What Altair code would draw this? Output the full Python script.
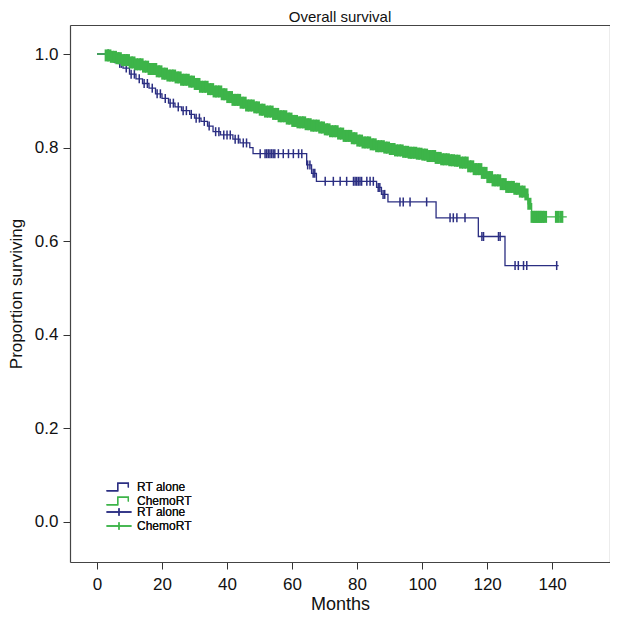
import altair as alt
import pandas as pd

# ---- data ----
groups = ["RT alone", "ChemoRT"]
colors = ["#2B2E82", "#3DB449"]

rt_t = [0, 5, 6.5, 8, 10, 12, 14, 16, 18, 20, 22, 24, 26, 28.5, 30, 32, 34, 35.7,
        38, 41.8, 44, 47, 48, 64.5, 66, 67.5, 86, 87.5, 89.5, 104.3, 117.3, 125.5, 142]
rt_s = [1.0, 0.99, 0.98, 0.97, 0.957, 0.947, 0.937, 0.927, 0.915, 0.905, 0.895, 0.887,
        0.879, 0.871, 0.863, 0.856, 0.846, 0.834, 0.827, 0.818, 0.81, 0.80, 0.787,
        0.763, 0.745, 0.728, 0.715, 0.70, 0.684, 0.65, 0.61, 0.548, 0.548]
rt_cens = [3.5, 5.5, 7, 7.5, 9, 10.5, 11.5, 13, 14.5, 15.5, 17, 18.5, 19.5, 21, 22.5,
           23.5, 25, 26.5, 27.5, 29, 30.5, 31.5, 33, 34.5, 36.5, 37.5, 39, 40, 41,
           42.5, 43.5, 45, 46, 50.2, 51.7, 52.2, 52.7, 53.2, 53.7, 54.2, 54.7, 55.8,
           57.3, 58.9, 60.4, 62, 63, 64.8, 65.5, 66.5, 67, 70.2, 72.7, 74.8, 76.8,
           78.9, 79.4, 79.9, 80.4, 80.9, 81.4, 83, 84, 85, 86.5, 87, 88, 88.5, 93.2,
           94.2, 96.3, 101.4, 108.6, 109.6, 110.7, 113.2, 118.4, 118.9, 123.5, 124,
           128.6, 129.6, 131.2, 132.2, 141.4]

ch_t = [0, 3, 4.5, 6, 8, 10, 12, 14, 16, 18, 20, 22, 24, 26, 28, 30, 32, 34, 36, 38,
        40, 42, 44, 46, 48, 50, 52, 54, 56, 58, 60, 62, 64, 66, 68, 70, 72, 74, 76,
        78, 80, 82, 84, 86, 88, 90, 92, 94, 96, 98, 100, 102, 104, 106, 108, 110,
        112, 114, 116, 118, 120, 122, 124, 126, 128, 130, 131.5, 132.6, 133.7, 144.5]
ch_s = [1.0, 0.997, 0.994, 0.991, 0.987, 0.982, 0.978, 0.973, 0.968, 0.963, 0.958,
        0.954, 0.95, 0.945, 0.941, 0.936, 0.93, 0.925, 0.92, 0.914, 0.908, 0.902,
        0.896, 0.89, 0.886, 0.881, 0.877, 0.872, 0.867, 0.862, 0.857, 0.854, 0.85,
        0.847, 0.843, 0.839, 0.835, 0.83, 0.825, 0.82, 0.815, 0.811, 0.807, 0.803,
        0.8, 0.797, 0.794, 0.791, 0.789, 0.787, 0.785, 0.782, 0.778, 0.775, 0.773,
        0.772, 0.768, 0.76, 0.754, 0.746, 0.737, 0.73, 0.722, 0.716, 0.712, 0.706,
        0.70, 0.68, 0.652, 0.652]
ch_cens = [3, 3.8, 4.6, 5.5, 6.3, 7, 8, 8.8, 9.5, 10.4, 11.2, 12, 12.9, 13.7, 14.5,
           15.4, 16.2, 17, 17.9, 18.7, 19.5, 20.4, 21.2, 22, 22.9, 23.7, 24.5, 25.4,
           26.2, 27, 27.9, 28.7, 29.5, 30.4, 31.2, 32, 32.9, 33.7, 34.5, 35.4, 36.2,
           37, 37.9, 38.7, 39.5, 40.4, 41.2, 42, 42.9, 43.7, 44.5, 45.4, 46.2, 47,
           47.9, 48.7, 49.5, 50.4, 51.2, 52, 52.9, 53.7, 54.5, 55.4, 56.2, 57, 57.9,
           58.7, 59.5, 60.4, 61.2, 62, 62.9, 63.7, 64.5, 65.4, 66.2, 67, 67.9, 68.7,
           69.5, 70.4, 71.2, 72, 72.9, 73.7, 74.5, 75.4, 76.2, 77, 77.9, 78.7, 79.5,
           80.4, 81.2, 82, 82.9, 83.7, 84.5, 85.4, 86.2, 87, 87.9, 88.7, 89.5, 90.4,
           91.2, 92, 92.9, 93.7, 94.5, 95.4, 96.2, 97, 97.9, 98.7, 99.5, 100.4, 101.2,
           102, 102.9, 103.7, 104.5, 105.4, 106.2, 107, 107.9, 108.7, 109.5, 110.4,
           111.2, 112, 112.9, 113.7, 114.5, 115.4, 116.2, 117, 117.9, 118.7, 119.5,
           120.4, 121.2, 122, 122.9, 123.7, 124.5, 125.4, 126.2, 127, 127.9, 128.7,
           129.5, 130.4, 131.2, 132.1, 133, 134, 134.6, 135.2, 135.8, 136.4, 137,
           137.8, 141.5, 142.8]

x_ticks = [0, 20, 40, 60, 80, 100, 120, 140]
y_ticks = [0.0, 0.2, 0.4, 0.6, 0.8, 1.0]
x_dom = [-8.3, 157.8]
y_dom = [-0.0855, 1.062]

W, H = 540, 537
FRAME = "#444444"


def level(ts, ss, t):
    v = ss[0]
    for a, b in zip(ts, ss):
        if a <= t:
            v = b
    return v


curve = pd.DataFrame(
    [{"t": a, "s": b, "g": groups[0]} for a, b in zip(rt_t, rt_s)]
    + [{"t": a, "s": b, "g": groups[1]} for a, b in zip(ch_t, ch_s)]
)
cens = pd.DataFrame(
    [{"t": a, "s": level(rt_t, rt_s, a), "g2": groups[0]} for a in rt_cens]
    + [{"t": a, "s": level(ch_t, ch_s, a), "g2": groups[1]} for a in ch_cens]
)
corner = pd.DataFrame([{"t": x_dom[1], "s": y_dom[1]}])

xs = alt.Scale(domain=x_dom, nice=False, zero=False)
ys = alt.Scale(domain=y_dom, nice=False, zero=False)

# legend symbols drawn wider than their nominal size so rows stay compact
step_path = "M-2,0.6L-0.2,0.6L-0.2,-0.6L1.5,-0.6L1.5,0.1"
cross_path = "M-2,0L2,0M0,-0.6L0,0.6"

xax = alt.Axis(values=x_ticks, title="Months", grid=False, domain=True,
               domainColor=FRAME, domainWidth=1.2,
               tickSize=7, tickColor="#333", labelFontSize=17, titleFontSize=18,
               titleFontWeight="normal", labelPadding=7, titlePadding=3,
               labelColor="#111", titleColor="#111")
yax = alt.Axis(values=y_ticks, title="Proportion surviving", format=".1f", grid=False,
               domain=True, domainColor=FRAME, domainWidth=1.2,
               tickSize=7, tickColor="#333", labelFontSize=17,
               titleFontSize=17, titleFontWeight="normal", labelPadding=5,
               titlePadding=9, labelColor="#111", titleColor="#111")
# top / right edges of the box: bare axes (domain line only)
xax_top = alt.Axis(orient="top", labels=False, ticks=False, title=None, grid=False,
                   domain=True, domainColor=FRAME, domainWidth=1.2)
yax_right = alt.Axis(orient="right", labels=False, ticks=False, title=None, grid=False,
                     domain=True, domainColor=FRAME, domainWidth=1.2)


def leg(y, sym):
    return alt.Legend(title=None, orient="none", legendX=42, legendY=y,
                      symbolType=sym, symbolSize=156, symbolStrokeWidth=1.3,
                      labelFontSize=12, labelOffset=11, rowPadding=0, padding=0,
                      labelColor="#111", labelFont="Liberation Sans")


box = (
    alt.Chart(corner)
    .mark_point(opacity=0, size=1)
    .encode(
        x=alt.X("t:Q", scale=xs, axis=xax_top),
        y=alt.Y("s:Q", scale=ys, axis=yax_right),
    )
)

lines = []
pts = []
for i, gname in enumerate(groups):
    lines.append(
        alt.Chart(curve[curve.g == gname]).mark_line(interpolate="step-after", strokeWidth=1.3)
        .encode(
            x=alt.X("t:Q", scale=xs, axis=xax),
            y=alt.Y("s:Q", scale=ys, axis=yax),
            color=alt.Color("g:N", scale=alt.Scale(domain=groups, range=colors),
                            legend=leg(455, step_path)),
        )
    )
    pts.append(
        alt.Chart(cens[cens.g2 == gname])
        .mark_point(shape="M0,-1L0,1", filled=False, size=81 if i == 0 else 144,
                    strokeWidth=1.5 if i == 0 else 4.2, opacity=1)
        .encode(
            x=alt.X("t:Q", scale=xs, axis=xax),
            y=alt.Y("s:Q", scale=ys, axis=yax),
            stroke=alt.Stroke("g2:N", scale=alt.Scale(domain=groups, range=colors),
                              legend=leg(480, cross_path)),
        )
    )

main = (
    alt.layer(lines[0], pts[0], lines[1], pts[1])
    .resolve_scale(color="independent", stroke="independent")
)

chart = (
    alt.layer(main, box)
    .resolve_axis(x="independent", y="independent")
    .resolve_scale(color="independent", stroke="independent")
    .properties(
        width=W, height=H,
        title=alt.TitleParams("Overall survival", fontSize=15, fontWeight="normal",
                              offset=0, color="#111"),
        autosize=alt.AutoSizeParams(type="none"),
        padding={"left": 62, "top": 17, "right": 0, "bottom": 60},
    )
    .configure_view(stroke=FRAME, strokeWidth=1.2)
    .configure(font="Liberation Sans")
)

chart.save("out.html", embed_options={"renderer": "svg", "actions": False})
